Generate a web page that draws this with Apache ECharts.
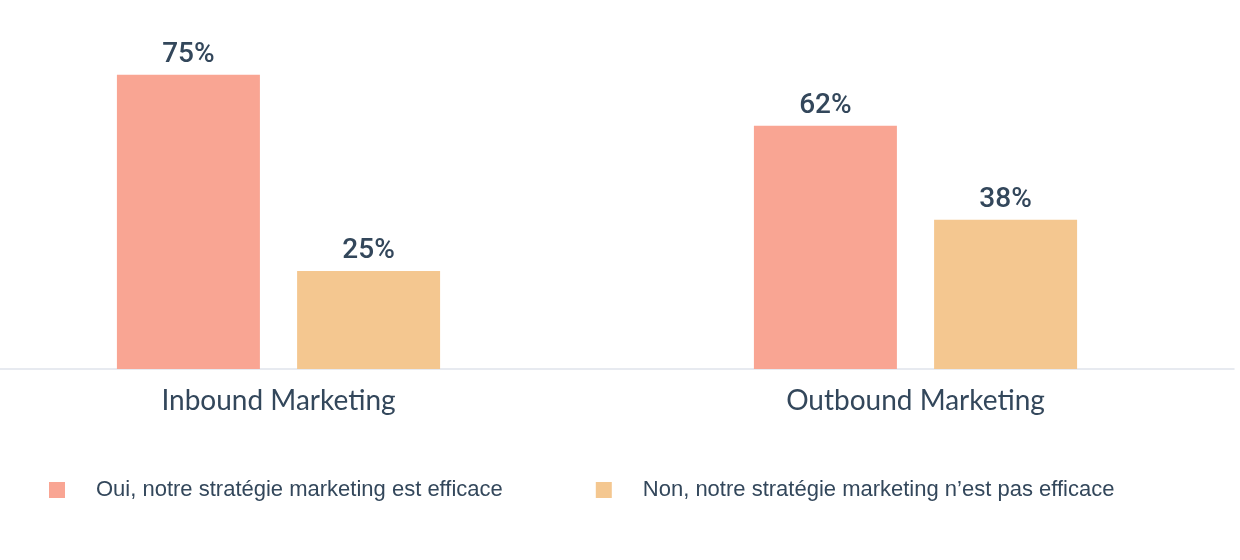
<!DOCTYPE html>
<html style="height: 100%">
<head>
<meta charset="utf-8">
<script src="https://cdn.jsdelivr.net/npm/echarts@6/dist/echarts.min.js"></script>
</head>
<body style="height: 100%; margin: 0; background: #fff">
<div id="target" style="width: 1240px; height: 560px"></div>
<script>
const categories = ["Inbound Marketing", "Outbound Marketing"];
const ouiValues = [75, 62];
const nonValues = [25, 38];
const seriesNames = ["Oui, notre stratégie marketing est efficace", "Non, notre stratégie marketing n\u2019est pas efficace"];

let chart = echarts.init(document.getElementById('target'));

const labelStyle = {
    show: true,
    position: "top",
    formatter: "{c}%",
    color: "#33475b",
    fontSize: 28,
    fontWeight: 500,
    fontFamily: "Roboto",
    distance: 6,
};

chart.setOption({
    animation: false,
    grid: { left: -40, width: 1274, top: 55, bottom: 191, containLabel: false, outerBoundsMode: "none" },
    xAxis: {
        type: "category",
        data: categories,
        axisTick: { show: false },
        axisLine: { lineStyle: { color: "#dfe3eb", width: 1.5 } },
        axisLabel: { color: "#33475b", fontSize: 28, fontFamily: "Lato", margin: 18 },
    },
    yAxis: { type: "value", min: 0, max: 80, show: false },
    legend: {
        bottom: 54,
        left: 44,
        itemWidth: 16,
        itemHeight: 16,
        itemGap: 93,
        icon: "rect",
        textStyle: { color: "#33475b", fontSize: 22, fontFamily: "Liberation Sans", padding: [0, 0, 0, 26] },
    },
    series: [
        {
            name: seriesNames[0],
            type: "bar",
            data: ouiValues,
            barWidth: 143,
            barGap: "26%",
            itemStyle: { color: "#f9a593" },
            label: labelStyle,
        },
        {
            name: seriesNames[1],
            type: "bar",
            data: nonValues,
            barWidth: 143,
            itemStyle: { color: "#f4c790" },
            label: labelStyle,
        },
    ],
});
</script>
</body>
</html>
